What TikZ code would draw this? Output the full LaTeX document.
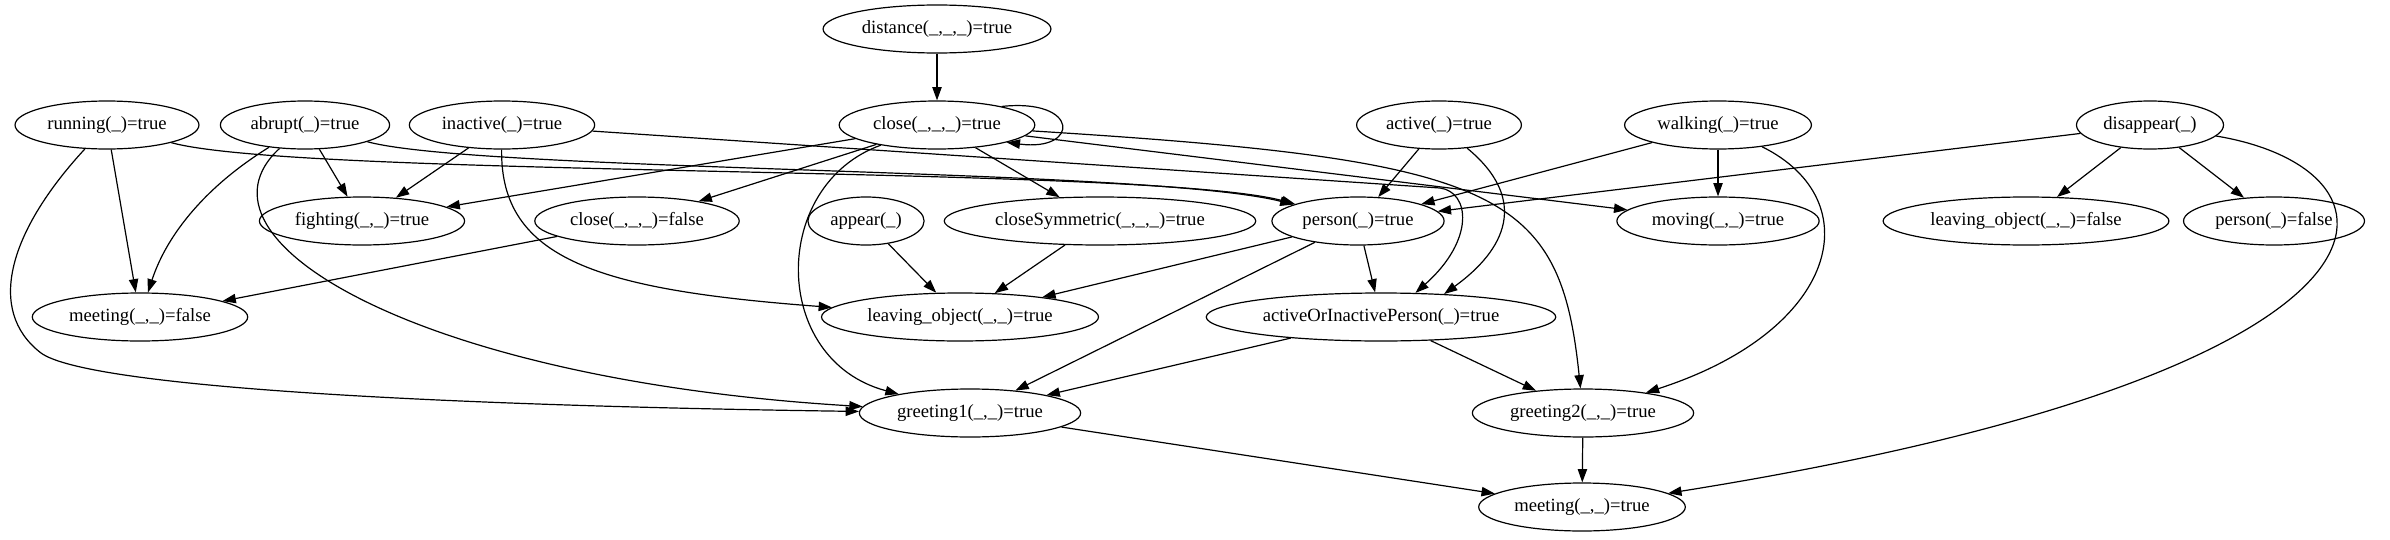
\documentclass[tikz,border=0pt]{standalone}
\usepackage{fontspec}
\setmainfont{Liberation Serif}
\usetikzlibrary{shapes.geometric,arrows.meta}
\begin{document}
\begin{tikzpicture}[x=0.75pt,y=-0.75pt,
  st/.style={draw,ellipse,line width=0.9pt,inner xsep=4pt,inner ysep=2pt,
    minimum height=36pt,font=\fontsize{14}{16}\selectfont},
  edge/.style={line width=0.9pt,-{Triangle[length=10pt,width=7pt]}}]
  \useasboundingbox (0,0) rectangle (2390,539);
  \node[st] (dist) at (937,29) {distance(\_,\_,\_)=true};
  \node[st] (run) at (107,125) {running(\_)=true};
  \node[st] (abrupt) at (305,125) {abrupt(\_)=true};
  \node[st] (inact) at (502,125) {inactive(\_)=true};
  \node[st] (close) at (937,125) {close(\_,\_,\_)=true};
  \node[st] (active) at (1439,125) {active(\_)=true};
  \node[st] (walk) at (1718,125) {walking(\_)=true};
  \node[st] (disapp) at (2150,125) {disappear(\_)};
  \node[st] (fight) at (362,221) {fighting(\_,\_)=true};
  \node[st] (closeF) at (637,221) {close(\_,\_,\_)=false};
  \node[st] (appear) at (866,221) {appear(\_)};
  \node[st] (closeSym) at (1100,221) {closeSymmetric(\_,\_,\_)=true};
  \node[st] (person) at (1358,221) {person(\_)=true};
  \node[st] (moving) at (1718,221) {moving(\_,\_)=true};
  \node[st] (leaveF) at (2026,221) {leaving\_object(\_,\_)=false};
  \node[st] (personF) at (2274,221) {person(\_)=false};
  \node[st] (meetF) at (140,317) {meeting(\_,\_)=false};
  \node[st] (leaveT) at (960,317) {leaving\_object(\_,\_)=true};
  \node[st] (aoip) at (1381,317) {activeOrInactivePerson(\_)=true};
  \node[st] (greet1) at (970,413) {greeting1(\_,\_)=true};
  \node[st] (greet2) at (1583,413) {greeting2(\_,\_)=true};
  \node[st] (meetT) at (1582,507) {meeting(\_,\_)=true};

  \draw[edge] (dist) -- (close);
  \draw[edge] (close.16) .. controls (1080,98) and (1080,152) .. (close.-14);
  \draw[edge] (close) -- (fight);
  \draw[edge] (close) -- (closeF);
  \draw[edge] (close) -- (closeSym);
  \draw[edge] (close) -- (moving);
  \draw[edge] (close) .. controls (770,185) and (770,360) .. (greet1);
  \draw[edge] (close) .. controls (1500,160) and (1560,190) .. (greet2);
  \draw[edge] (run) -- (meetF);
  \draw[edge] (run) .. controls (300,178) and (1150,165) .. (person);
  \draw[edge] (run) .. controls (10,230) and (-15,310) .. (41,353)
    .. controls (85,385) and (400,405) .. (greet1);
  \draw[edge] (abrupt) -- (fight);
  \draw[edge] (abrupt) .. controls (200,190) and (165,240) .. (meetF);
  \draw[edge] (abrupt) .. controls (480,172) and (1150,168) .. (person);
  \draw[edge] (abrupt) .. controls (180,240) and (420,380) .. (greet1);
  \draw[edge] (inact) -- (fight);
  \draw[edge] (inact) .. controls (500,260) and (600,290) .. (leaveT);
  \draw[edge] (inact) -- (1440,188) .. controls (1470,192) and (1475,240) .. (aoip.35);
  \draw[edge] (active) -- (person);
  \draw[edge] (active) .. controls (1530,200) and (1505,250) .. (aoip.20);
  \draw[edge] (walk) -- (person);
  \draw[edge] (walk) -- (moving);
  \draw[edge] (walk) .. controls (1870,200) and (1840,330) .. (greet2);
  \draw[edge] (disapp) -- (person);
  \draw[edge] (disapp) -- (leaveF);
  \draw[edge] (disapp) -- (personF);
  \draw[edge] (disapp) .. controls (2420,170) and (2440,370) .. (meetT);
  \draw[edge] (closeF) -- (meetF);
  \draw[edge] (appear) -- (leaveT);
  \draw[edge] (closeSym) -- (leaveT);
  \draw[edge] (person) -- (leaveT);
  \draw[edge] (person) -- (greet1);
  \draw[edge] (person) -- (aoip);
  \draw[edge] (aoip) -- (greet1);
  \draw[edge] (aoip) -- (greet2);
  \draw[edge] (greet1) -- (meetT);
  \draw[edge] (greet2) -- (meetT);
\end{tikzpicture}
\end{document}
